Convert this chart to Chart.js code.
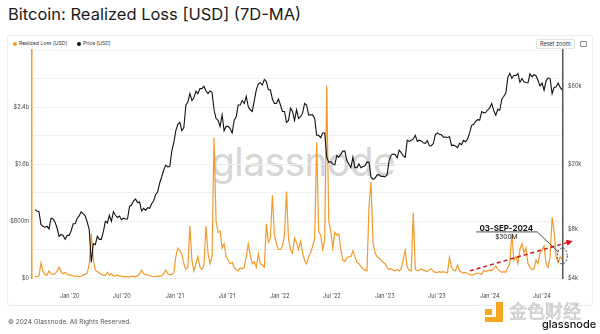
<!DOCTYPE html>
<html>
<head>
<meta charset="utf-8">
<script src="https://cdn.jsdelivr.net/npm/chart.js@4.4.1/dist/chart.umd.min.js"></script>
<style>
  body { margin:0; width:600px; height:334px; background:#fff; position:relative; overflow:hidden; font-family:Inter, sans-serif; }
  #title { position:absolute; left:8px; top:6px; font-size:16.5px; line-height:17px; color:#1b1b1b; white-space:nowrap; }
  #card { position:absolute; left:7px; top:35px; width:584px; height:269px; border:1px solid #ececec; border-radius:3px; background:#fff; }
  #wm { position:absolute; left:211px; top:143px; font-size:39px; line-height:38px; color:#d6d6d6; letter-spacing:-0.6px; }
  #legend { position:absolute; left:13px; top:40px; font-size:5px; line-height:6px; color:#333; white-space:nowrap; }
  #legend span.dot { display:inline-block; width:4px; height:4px; border-radius:2px; margin-right:2px; vertical-align:-0.5px; }
  #reset { position:absolute; left:536px; top:39px; font-size:5.5px; line-height:6px; padding:1px 3px; border:1px solid #e3e3e3; border-radius:2px; color:#333; }
  #icon { position:absolute; left:580px; top:41px; width:5px; height:4px; border:1px solid #888; border-radius:1px; }
  canvas { position:absolute; left:0; top:0; }
  #foot { position:absolute; left:8px; top:319px; font-size:6.5px; line-height:7px; color:#555; white-space:nowrap; }
  .y { position:absolute; background:#f5a623; }
  #cn { position:absolute; left:509px; top:300px; font-size:18px; line-height:20px; color:#e4e4e4; -webkit-text-stroke:0.5px #b8b8b8; font-family:"Noto Sans CJK SC"; white-space:nowrap; }
  #gn { position:absolute; left:542px; top:319px; font-size:11px; line-height:11px; color:#111; font-weight:500; }
</style>
</head>
<body>
<div id="title">Bitcoin: Realized Loss [USD] (7D-MA)</div>
<div id="card"></div>
<div id="wm">glassnode</div>
<div id="legend"><span class="dot" style="background:#f39a2b"></span>Realized Loss [USD] &nbsp;&nbsp;&nbsp;&nbsp;&nbsp;&nbsp;<span class="dot" style="background:#111"></span>Price [USD]</div>
<div id="reset">Reset zoom</div>
<div id="icon"></div>
<canvas id="chart" width="600" height="334"></canvas>
<div id="foot">© 2024 Glassnode. All Rights Reserved.</div>
<div class="y" style="left:485px;top:309px;width:7px;height:6px"></div>
<div class="y" style="left:496px;top:302px;width:7px;height:20px"></div>
<div class="y" style="left:485px;top:317px;width:18px;height:5px"></div>
<div id="cn">金色财经</div>
<div id="gn">glassnode</div>
<script>
// weekly series, first week = 02-Sep-2019
var startYear = 2019.668;

// realized loss, 7D-MA, millions USD
var lossM = [
  20, 20, 30, 210, 90,  50, 40, 100, 60,  50, 60, 100, 155,  90, 60, 80, 50, 45,
  40, 30, 25, 25,  20, 25, 40, 50,  70, 200, 625, 250, 110,  90, 70, 50, 40,
  35, 80, 40, 60,  30, 30, 40, 25, 25,  20, 20, 15, 15,  25, 20, 20, 30, 60,
  110, 60, 50, 40,  35, 25, 20, 25,  30, 25, 30, 60, 110,  60, 45, 50, 70,
  300, 420, 380, 330,  200, 120, 150, 730,  250, 100, 200, 300, 150,  120, 180, 730, 350,
  200, 300, 1970, 800, 640,  660, 420, 480, 300,  250, 200, 220, 150,  120, 100, 140, 130, 150,
  300, 480, 320, 200,  230, 150, 340, 200,  180, 150, 760, 500, 560,  1160, 600, 480, 400,
  400, 450, 600, 1215, 550,  400, 350, 560, 500,  400, 520, 350, 250,  200, 300, 350, 450,
  550, 1900, 650, 600, 400,  530, 2700, 800, 660,  420, 640, 600, 620,  400, 250, 230, 280, 300,
  300, 380, 300, 220,  200, 160, 130, 110, 100,  1000, 1350, 500, 350,  300, 280, 250, 220,
  200, 150, 120, 130, 110,  100, 120, 100, 130,  250, 390, 150, 110,  100, 915, 120, 100,
  110, 130, 110, 100, 90,  120, 130, 90, 80,  80, 90, 80, 90, 80,  70, 290, 150, 110,
  100, 180, 100, 80,  70, 80, 60, 50, 40,  50, 60, 70, 60,  50, 110, 90, 100,
  110, 100, 130, 170, 120,  100, 80, 90, 80,  150, 200, 620, 250,  300, 200, 400, 480, 350,
  420, 200, 150, 120,  130, 250, 200, 350,  400, 450, 200, 150, 300,  850, 650, 300, 220,  300, 260
];

// BTC price, thousands USD
var priceK = [
  10.5, 10.3, 10.2, 8.5, 8.3,  8.2, 8.3, 8.0, 9.3,  9.2, 8.8, 8.1, 7.2,  7.4, 7.3, 6.9, 7.3, 7.3,
  7.8, 8.6, 8.6, 9.3,  9.6, 10.2, 9.9, 9.6,  8.8, 7.9, 5.0, 6.5, 6.4,  7.2, 6.9, 6.9, 7.7,
  8.9, 8.7, 9.7, 8.9,  10.2, 9.7, 9.4, 9.6, 9.1,  9.3, 9.2, 9.2, 11.0,  11.2, 11.9, 12.2, 11.6, 11.7,
  10.3, 10.7, 10.4, 10.8,  10.7, 11.4, 11.9, 13.0,  13.5, 15.3, 16.7, 18.4, 19.7,  19.2, 19.3, 24.0, 27.0,
  32, 35, 36, 32,  33.5, 46, 48, 54,  49, 51, 56, 54, 58,  58, 60, 56, 54,
  56, 55, 43, 38, 37,  34, 40, 32, 34,  34, 33, 31, 37,  39, 46, 46, 49, 47,
  52, 45, 43, 42,  49, 57, 62, 63,  61, 66, 64, 57, 57,  50, 47, 47, 50,
  46, 42, 42, 36, 37,  44, 42, 37, 43,  38, 39, 41, 47,  46, 40, 40, 40,
  38, 30, 30, 29, 31,  31, 22, 20.5, 20.7,  20, 19.8, 22.5, 22,  23, 24, 24, 21, 20,
  19, 22, 19, 19,  20, 19, 19.3, 19.5, 20.6,  20.5, 16.6, 16.1, 16.4,  17.1, 17.2, 16.8, 16.8,
  16.7, 17.2, 21, 22.7, 23,  22.9, 21.8, 24.3, 23.5,  22.4, 22, 28, 27.5,  28, 28.5, 30, 27.5,
  28, 27.7, 27, 26.8, 27.8,  25.8, 25.9, 26.8, 30.3,  31, 30.4, 30.2, 29.2, 29.3,  29.1, 29.4, 26, 26.1,
  25.8, 25.2, 26.8, 26.3,  27.9, 27.4, 28.5, 31, 34.5,  35, 36.5, 37.4, 37.2,  41.9, 41.2, 41.4, 43,
  44.2, 47, 42.5, 39.8, 43.3,  42.7, 49.9, 52, 54.5,  68, 72, 67, 70,  69.7, 71.6, 63.4, 66.8, 63.8,
  63.2, 62.9, 71.4, 68.5,  70.5, 69.6, 65, 60.3,  62.7, 56.7, 64.7, 67.5, 66.8,  54, 59, 59.5, 62.8,  59, 57
];

var tickYears = [2020, 2021, 2022, 2023, 2024];
var xTickLabels = ["Jan '20", "Jul '20", "Jan '21", "Jul '21", "Jan '22", "Jul '22", "Jan '23", "Jul '23", "Jan '24", "Jul '24"];
var lossTicks = [0, 800, 1600, 2400];
var lossTickLabels = ['$0', '$800m', '$1.6b', '$2.4b'];
var priceTicks = [4, 8, 20, 60];
var priceTickLabels = ['$4k', '$8k', '$20k', '$60k'];

// annotation: trend arrow and the 03-SEP-2024 callout (x in years, y in millions)
var trendFrom = [2023.81, 100];
var trendTo = [2024.79, 520];
var callout = [2024.69, 310];

function weekT(i) { return startYear + i * 7 / 365.25; }

var xTickVals = [];
tickYears.forEach(function (y) { xTickVals.push(y, y + 0.496); });

var annotate = {
  id: 'annotate',
  afterDatasetsDraw: function (chart) {
    var ctx = chart.ctx, x = chart.scales.x, y = chart.scales.y;
    ctx.save();
    // red dashed trend
    var x0 = x.getPixelForValue(trendFrom[0]), y0 = y.getPixelForValue(trendFrom[1] * 1e6);
    var x1 = x.getPixelForValue(trendTo[0]), y1 = y.getPixelForValue(trendTo[1] * 1e6);
    var a = Math.atan2(y1 - y0, x1 - x0);
    ctx.strokeStyle = '#d0161e';
    ctx.lineWidth = 1.5;
    ctx.setLineDash([4, 3]);
    ctx.beginPath();
    ctx.moveTo(x0, y0);
    ctx.lineTo(x1 - 5 * Math.cos(a), y1 - 5 * Math.sin(a));
    ctx.stroke();
    ctx.setLineDash([]);
    ctx.fillStyle = '#d0161e';
    ctx.beginPath();
    ctx.moveTo(x1, y1);
    ctx.lineTo(x1 - 7 * Math.cos(a - 0.45), y1 - 7 * Math.sin(a - 0.45));
    ctx.lineTo(x1 - 7 * Math.cos(a + 0.45), y1 - 7 * Math.sin(a + 0.45));
    ctx.closePath();
    ctx.fill();

    // callout
    var cx = x.getPixelForValue(callout[0]), cy = y.getPixelForValue(callout[1] * 1e6);
    ctx.strokeStyle = '#222';
    ctx.lineWidth = 0.8;
    ctx.setLineDash([2, 1.5]);
    ctx.beginPath();
    ctx.ellipse(cx, cy, 5, 8, 0, 0, Math.PI * 2);
    ctx.stroke();
    ctx.setLineDash([]);
    ctx.beginPath();
    ctx.moveTo(cx - 86, cy - 24);
    ctx.lineTo(cx - 25, cy - 24);
    ctx.lineTo(cx - 4, cy - 4);
    ctx.stroke();
    ctx.fillStyle = '#111';
    ctx.textAlign = 'center';
    ctx.textBaseline = 'alphabetic';
    ctx.font = 'bold 8px Inter';
    ctx.fillText('03-SEP-2024', cx - 56, cy - 25);
    ctx.font = '6.5px Inter';
    ctx.fillText('$300M', cx - 56, cy - 17);
    ctx.restore();
  }
};

new Chart(document.getElementById('chart').getContext('2d'), {
  type: 'line',
  data: {
    datasets: [{
      label: 'Price [USD]',
      data: priceK.map(function (v, i) { return { x: weekT(i), y: v * 1000 }; }),
      borderColor: '#111',
      borderWidth: 1.1,
      yAxisID: 'y1',
      order: 0
    }, {
      label: 'Realized Loss [USD]',
      data: lossM.map(function (v, i) { return { x: weekT(i), y: v * 1e6 }; }),
      borderColor: '#f39a2b',
      borderWidth: 1.2,
      yAxisID: 'y',
      order: 1
    }]
  },
  options: {
    responsive: false,
    animation: false,
    layout: { padding: { left: 0, right: 0, top: 50, bottom: 36 } },
    elements: { point: { radius: 0 }, line: { tension: 0 } },
    plugins: { legend: { display: false }, tooltip: { enabled: false } },
    scales: {
      x: {
        type: 'linear',
        min: 2019.64,
        max: 2024.697,
        afterBuildTicks: function (s) { s.ticks = xTickVals.map(function (v) { return { value: v }; }); },
        afterFit: function (s) { s.height = 20; },
        grid: { display: false },
        border: { display: false },
        ticks: {
          autoSkip: false, maxRotation: 0, padding: 7,
          color: '#444', font: { family: 'Inter', size: 5.5 },
          callback: function (v, i) { return xTickLabels[i]; }
        }
      },
      y: {
        position: 'left',
        min: 0,
        max: 3.2e9,
        afterBuildTicks: function (s) {
          var t = [];
          for (var v = 0; v <= 3200; v += 400) t.push({ value: v * 1e6 });
          s.ticks = t;
        },
        afterFit: function (s) { s.width = 32; },
        grid: { color: '#f0f0f0', drawTicks: false },
        border: { color: '#f39a2b', width: 1.5 },
        ticks: {
          padding: 3, color: '#444', font: { family: 'Inter', size: 5.5 },
          callback: function (v) {
            var k = lossTicks.indexOf(Math.round(v / 1e6));
            return k < 0 ? '' : lossTickLabels[k];
          }
        }
      },
      y1: {
        type: 'logarithmic',
        position: 'right',
        min: 4000,
        max: 100000,
        afterBuildTicks: function (s) { s.ticks = priceTicks.map(function (v) { return { value: v * 1000 }; }); },
        afterFit: function (s) { s.width = 37; },
        grid: { drawOnChartArea: false, drawTicks: false },
        border: { color: '#555', width: 1.5 },
        ticks: {
          padding: 5, color: '#444', font: { family: 'Inter', size: 5.5 },
          callback: function (v) {
            var k = priceTicks.indexOf(Math.round(v / 1000));
            return k < 0 ? '' : priceTickLabels[k];
          }
        }
      }
    }
  },
  plugins: [annotate]
});
</script>
</body>
</html>
